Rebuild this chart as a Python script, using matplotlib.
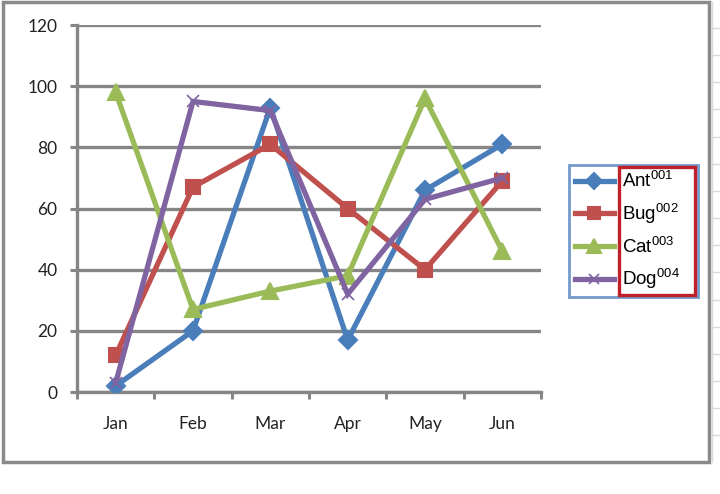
import matplotlib
matplotlib.use("Agg")
import matplotlib.pyplot as plt
from matplotlib.patches import Rectangle
from matplotlib.lines import Line2D
from matplotlib.transforms import Bbox

months = ["Jan", "Feb", "Mar", "Apr", "May", "Jun"]
ant = [2, 20, 93, 17, 66, 81]
bug = [12, 67, 81, 60, 40, 69]
cat = [98, 27, 33, 38, 96, 46]
dog = [3, 95, 92, 32, 63, 70]
labels = ["Ant$^{\\mathregular{001}}$", "Bug$^{\\mathregular{002}}$",
          "Cat$^{\\mathregular{003}}$", "Dog$^{\\mathregular{004}}$"]
yticks = [0, 20, 40, 60, 80, 100, 120]

W, H = 720, 494
fig = plt.figure(figsize=(W / 100, H / 100), dpi=100)
fig.patch.set_facecolor("white")

grey = "#868686"

# outer chart border
fig.add_artist(Rectangle((3 / W, 1 - 462 / H), 706 / W, 460 / H,
                         transform=fig.transFigure, fill=False,
                         edgecolor="#8a8a8a", lw=2.5))
# faint spreadsheet lines on the right
fig.add_artist(Line2D([712 / W, 712 / W], [1 - 2 / H, 1 - 462 / H],
                      transform=fig.transFigure, color="#d9d9d9", lw=1))
for r in range(16):
    yy = 28 + r * 27.15
    fig.add_artist(Line2D([712 / W, 1.0], [1 - yy / H, 1 - yy / H],
                          transform=fig.transFigure, color="#d9d9d9", lw=1))

ax = fig.add_axes([77 / W, 1 - 392 / H, (541 - 77) / W, (392 - 25) / H])
x = list(range(len(months)))

series = [
    (ant, "#4A7EBB", "D", 9.5),
    (bug, "#C0504D", "s", 10.5),
    (cat, "#9BBB59", "^", 11.5),
    (dog, "#8064A2", "x", 9),
]
handles = []
for (vals, col, mk, ms), lab in zip(series, labels):
    h, = ax.plot(x, vals, color=col, lw=3.8, marker=mk, markersize=ms,
                 markeredgecolor=col, markerfacecolor=col,
                 markeredgewidth=1.5 if mk != "x" else 1.2,
                 label=lab, solid_joinstyle="miter", zorder=3)
    handles.append(h)

ax.set_xlim(-0.5, len(months) - 0.5)
ax.set_ylim(0, 120)
ax.set_yticks(yticks)
ax.set_xticks(x)
ax.set_xticklabels(months)
ax.set_xticks([i + 0.5 for i in range(-1, len(months))], minor=True)

ax.grid(axis="y", color=grey, lw=2.4, zorder=0)
ax.set_axisbelow(True)
for s in ["top", "right"]:
    ax.spines[s].set_visible(False)
for s in ["left", "bottom"]:
    ax.spines[s].set_color(grey)
    ax.spines[s].set_linewidth(2.4)

ax.tick_params(axis="y", which="major", direction="out", length=5, width=2.2,
               color=grey, pad=9, labelsize=12.5, labelcolor="#222222")
ax.tick_params(axis="x", which="major", length=0, pad=17, labelsize=12.5,
               labelcolor="#222222")
ax.tick_params(axis="x", which="minor", direction="out", length=5, width=2.2,
               color=grey)
for lbl in ax.get_xticklabels() + ax.get_yticklabels():
    lbl.set_family("Lato")

leg = fig.legend(handles=handles, loc="upper left",
                 bbox_to_anchor=(569 / W, 1 - 165 / H, 129 / W, 0.0),
                 bbox_transform=fig.transFigure, mode="expand",
                 prop={"family": "Liberation Sans", "size": 13.5},
                 frameon=True, fancybox=False, handlelength=2.1,
                 handletextpad=0.4, labelspacing=0.52, borderpad=0.3,
                 borderaxespad=0, markerscale=0.85)
fr = leg.get_frame()
fr.set_edgecolor("#4F81BD")
fr.set_linewidth(2)
fr.set_facecolor("white")

# red inner box around the legend text, sized from the rendered legend
fig.canvas.draw()
r = fig.canvas.get_renderer()
lb = leg.get_window_extent(r)
tb = Bbox.union([t.get_window_extent(r) for t in leg.get_texts()])
x0 = tb.x0 - 3
x1 = lb.x1 - 3
y0 = lb.y0 + 2
y1 = lb.y1 - 2
fig.add_artist(Rectangle((x0 / W, y0 / H), (x1 - x0) / W, (y1 - y0) / H,
                         transform=fig.transFigure, fill=False,
                         edgecolor="#C0202A", lw=2.4, zorder=10))

fig.savefig("out.png", dpi=100, facecolor="white")
